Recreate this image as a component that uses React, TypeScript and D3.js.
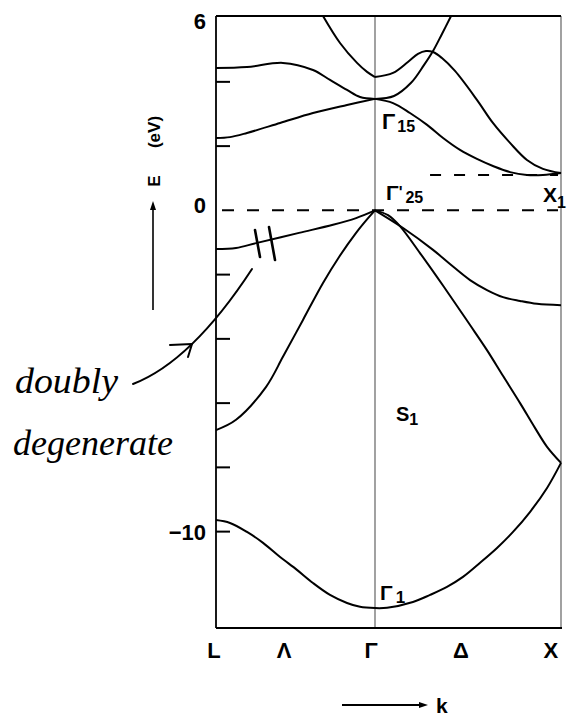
import React from "react";
import * as d3 from "d3";

// Each point is [k, E]: k = -1 at L, 0 at Γ, 1 at X; E in eV.
type Pt = [number, number];

// L → Γ branches
const band1LG: Pt[] = [[-1, -9.64], [-0.912, -9.73], [-0.805, -10.01], [-0.704, -10.35], [-0.597, -10.79], [-0.491, -11.19], [-0.39, -11.6], [-0.283, -11.97], [-0.176, -12.22], [-0.094, -12.34], [0, -12.38]];
const band2LG: Pt[] = [[-1, -6.84], [-0.874, -6.52], [-0.686, -5.5], [-0.579, -4.56], [-0.453, -3.41], [-0.327, -2.26], [-0.226, -1.45], [-0.119, -0.7], [-0.045, -0.25], [0, 0]];
const band3LG: Pt[] = [[-1, -1.2], [-0.874, -1.17], [-0.748, -1.02], [-0.478, -0.7], [-0.264, -0.45], [-0.119, -0.24], [0, 0]];
const band4LG: Pt[] = [[-1, 2.25], [-0.912, 2.28], [-0.805, 2.41], [-0.597, 2.72], [-0.39, 3.03], [-0.176, 3.28], [0, 3.47]];
const band5LG: Pt[] = [[-1, 4.43], [-0.805, 4.46], [-0.579, 4.59], [-0.39, 4.37], [-0.283, 4.06], [-0.176, 3.75], [-0.094, 3.53], [0, 3.47]];
const band6LG: Pt[] = [[-0.327, 6.05], [-0.22, 5.21], [-0.113, 4.59], [-0.05, 4.31], [0, 4.15]];

// Γ → X branches
const band1GX: Pt[] = [[0, -12.38], [0.065, -12.37], [0.204, -12.19], [0.296, -11.97], [0.387, -11.72], [0.473, -11.41], [0.565, -10.97], [0.656, -10.51], [0.742, -10.01], [0.833, -9.39], [0.925, -8.64], [1, -7.86]];
const band2GX: Pt[] = [[0, 0], [0.07, -0.15], [0.134, -0.49], [0.242, -1.33], [0.333, -2.07], [0.419, -2.79], [0.511, -3.57], [0.602, -4.35], [0.688, -5.15], [0.78, -6.0], [0.86, -6.77], [0.925, -7.36], [1, -7.86]];
const band3GX: Pt[] = [[0, 0], [0.151, -0.55], [0.312, -1.23], [0.403, -1.67], [0.511, -2.17], [0.602, -2.48], [0.688, -2.7], [0.78, -2.82], [0.871, -2.91], [1, -2.95]];
const band4GX: Pt[] = [[0, 3.47], [0.097, 3.34], [0.188, 3.03], [0.28, 2.66], [0.366, 2.25], [0.457, 1.88], [0.548, 1.6], [0.634, 1.38], [0.726, 1.19], [0.817, 1.1], [0.903, 1.1], [1, 1.16]];
const band5GX: Pt[] = [[0, 4.15], [0.097, 4.28], [0.177, 4.62], [0.231, 4.87], [0.274, 4.96], [0.312, 4.93], [0.36, 4.74], [0.43, 4.34], [0.548, 3.44], [0.634, 2.72], [0.726, 2.1], [0.817, 1.57], [0.903, 1.29], [1, 1.16]];
const band6GX: Pt[] = [[0, 3.47], [0.102, 3.56], [0.194, 3.97], [0.263, 4.52], [0.312, 4.96], [0.36, 5.49], [0.409, 6.05]];

const branches: Pt[][] = [
  band1LG, band2LG, band3LG, band4LG, band5LG, band6LG,
  band1GX, band2GX, band3GX, band4GX, band5GX, band6GX,
];

// Special energies
const valenceTop = 0; // Γ'25
const levelX1 = 1.1; // X1
const levelG15 = 3.47;
const levelG1 = -12.38;

// Axis content
const energyTicks = [4, 2, -2, -4, -6, -8, -10];
const energyTickLabels = [6, 0, -10];
const kPointNames = ["L", "Λ", "Γ", "Δ", "X"];
const kPointPos = [-1.013, -0.572, -0.025, 0.462, 0.946];

const FONT = "'Liberation Sans', Arial, Helvetica, sans-serif";
const HAND = "'Liberation Serif', 'DejaVu Serif', serif";

export default function App() {
  const x = d3.scaleLinear().domain([-1, 0, 1]).range([216, 375, 561]);
  const y = d3.scaleLinear().domain([-13, 6.05]).range([628, 16]);
  const line = d3
    .line<Pt>()
    .x((d) => x(d[0]))
    .y((d) => y(d[1]))
    .curve(d3.curveCatmullRom.alpha(0.5));

  const yTop = y(6.05);
  const yBot = y(-13);
  const x0 = x(-1);
  const xG = x(0);
  const xX = x(1);

  const kArrowY = 705;

  return (
    <svg
      width={569}
      height={719}
      viewBox="0 0 569 719"
      style={{ position: "absolute", left: 0, top: 0, display: "block", background: "#fff" }}
    >
      <rect x={0} y={0} width={569} height={719} fill="#fff" />

      {/* Γ and X verticals */}
      <line x1={xG} x2={xG} y1={yBot} y2={yTop} stroke="#555" strokeWidth={1.1} />
      <line x1={xX} x2={xX} y1={yBot} y2={yTop} stroke="#555" strokeWidth={1.1} />

      {/* frame */}
      <line x1={x0} x2={xX} y1={yTop} y2={yTop} stroke="#000" strokeWidth={2} />
      <line x1={x0} x2={xX + 1} y1={yBot} y2={yBot} stroke="#000" strokeWidth={2} />
      <line x1={x0} x2={x0} y1={yTop} y2={yBot} stroke="#000" strokeWidth={1.8} />

      {/* inner ticks */}
      {energyTicks.map((v) => (
        <line key={v} x1={x0} x2={x0 + 14} y1={y(v)} y2={y(v)} stroke="#000" strokeWidth={2} />
      ))}

      {/* tick labels */}
      {energyTickLabels.map((v) => (
        <text
          key={v}
          x={206}
          y={Math.max(y(v) - (v === 0 ? 5 : 0), 21)}
          dy="0.36em"
          textAnchor="end"
          fontFamily={FONT}
          fontWeight="bold"
          fontSize={22}
        >
          {v < 0 ? "\u2212" + Math.abs(v) : String(v)}
        </text>
      ))}

      {/* reference levels */}
      <line x1={x0 + 6} x2={xX - 3} y1={y(valenceTop)} y2={y(valenceTop)} stroke="#000" strokeWidth={2} strokeDasharray="12 13" />
      <line x1={x(0.296)} x2={xX - 3} y1={y(levelX1)} y2={y(levelX1)} stroke="#000" strokeWidth={2} strokeDasharray="11 13" />

      {/* bands */}
      {branches.map((b, i) => (
        <path key={i} d={line(b) || ""} fill="none" stroke="#000" strokeWidth={2} strokeLinejoin="round" />
      ))}

      {/* degeneracy marks */}
      <line x1={255} y1={230} x2={260} y2={257} stroke="#000" strokeWidth={2.6} strokeLinecap="round" />
      <line x1={269} y1={227} x2={275} y2={260} stroke="#000" strokeWidth={2.6} strokeLinecap="round" />

      {/* symmetry-point labels inside */}
      <g fontFamily={FONT} fontWeight="bold" fill="#000">
        <text x={xG + 7} y={y(levelG15) + 30} fontSize={22}>
          Γ<tspan fontSize={16} dx={2} dy={3}>15</tspan>
        </text>
        <text x={xG + 11} y={y(valenceTop) - 10} fontSize={21}>
          Γ<tspan fontSize={16} dy={-2}>'</tspan>
          <tspan fontSize={16} dx={3} dy={5}>25</tspan>
        </text>
        <text x={xX - 18} y={y(levelX1) + 27} fontSize={21}>
          X<tspan fontSize={16} dy={6}>1</tspan>
        </text>
        <text x={xG + 21} y={y(-6.55)} fontSize={20}>
          S<tspan fontSize={16} dy={4}>1</tspan>
        </text>
        <text x={xG + 5} y={y(levelG1) - 8} fontSize={21}>
          Γ<tspan fontSize={17} dx={3} dy={3}>1</tspan>
        </text>
      </g>

      {/* k-point labels */}
      {kPointNames.map((n, i) => (
        <text
          key={n}
          x={x(kPointPos[i])}
          y={658}
          textAnchor="middle"
          fontFamily={FONT}
          fontWeight="bold"
          fontSize={22}
        >
          {n}
        </text>
      ))}

      {/* k arrow */}
      <line x1={342} x2={422} y1={kArrowY} y2={kArrowY} stroke="#000" strokeWidth={2} />
      <path d={`M428,${kArrowY} L419,${kArrowY - 3} L419,${kArrowY + 3} Z`} fill="#000" />
      <text x={436} y={kArrowY + 8} fontFamily={FONT} fontWeight="bold" fontSize={21}>
        k
      </text>

      {/* energy axis title with arrow */}
      <line x1={153} x2={153} y1={310} y2={208} stroke="#000" strokeWidth={1.6} />
      <path d="M153,201 L150,210 L156,210 Z" fill="#000" />
      <text transform="translate(160,181) rotate(-90)" textAnchor="middle" fontFamily={FONT} fontWeight="bold" fontSize={17}>
        E
      </text>
      <text transform="translate(160,132) rotate(-90)" textAnchor="middle" fontFamily={FONT} fontWeight="bold" fontSize={17}>
        (eV)
      </text>

      {/* handwritten note */}
      <path d="M133,384 Q191.5,361.5 252,269" fill="none" stroke="#000" strokeWidth={2} strokeLinecap="round" />
      <path d="M170,345 L192,344 L188,357" fill="none" stroke="#000" strokeWidth={2} strokeLinecap="round" strokeLinejoin="round" />
      <text x={15} y={393} fontFamily={HAND} fontStyle="italic" fontSize={36} textLength={103} lengthAdjust="spacingAndGlyphs">
        doubly
      </text>
      <text x={13} y={455} fontFamily={HAND} fontStyle="italic" fontSize={36} textLength={160} lengthAdjust="spacingAndGlyphs">
        degenerate
      </text>
    </svg>
  );
}
